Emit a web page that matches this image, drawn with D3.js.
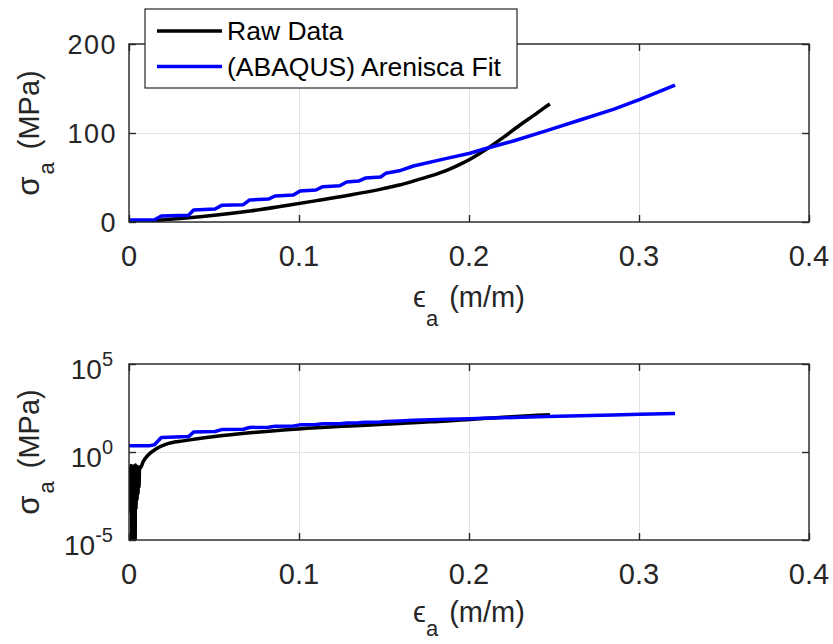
<!DOCTYPE html>
<html><head><meta charset="utf-8">
<script src="https://cdn.jsdelivr.net/npm/d3@7"></script>
<style>body{margin:0;background:#fff} svg{display:block} text{font-family:"Liberation Sans",Arial,Helvetica,sans-serif}</style>
</head><body><svg id="c" width="833" height="644"></svg>
<script>
// ---------- data ----------
const xTicks = [0, 0.1, 0.2, 0.3, 0.4];
const xTickLabels = ["0", "0.1", "0.2", "0.3", "0.4"];
const yTopTicks = [0, 100, 200];
const yTopTickLabels = ["0", "100", "200"];
const yBotTicks = [1e-5, 1, 1e5];
const yBotTickExp = ["-5", "0", "5"];
const seriesNames = ["Raw Data", "(ABAQUS) Arenisca Fit"];

const rawStrain = [0.0000,0.0003,0.0006,0.0009,0.0012,0.0015,0.0017,0.0019,0.0022,0.0025,0.0028,0.0031,0.0034,0.0036,0.0038,0.0041,0.0044,0.0047,0.0050,0.0053,0.0056,0.0059,0.0062,0.0065,
  0.0085,0.0104,0.0130,0.0163,0.0220,0.0320,0.0516,0.0712,0.0908,0.1104,0.1300,0.1496,0.1590,0.1673,0.1770,0.1869,0.1950,0.2006,0.2104,0.2202,0.2300,0.2398,0.2440,0.2476];
const rawStress = [0.15,0.0008,0.12,0.0004,0.17,0.002,0.000003,0.14,0.0005,0.16,0.0012,0.11,0.0003,0.000004,0.18,0.0006,0.13,0.002,0.15,0.004,0.12,0.01,0.14,0.117,
  0.30,0.54,0.95,1.6,2.8,4.3,7.9,12.4,18.0,24.0,30.3,37.5,41.5,46.0,51.5,58.0,65.0,70.5,82.0,95.0,109.0,122.0,128.0,132.6];

const fitStrain = [0,0.0124,0.0150,0.0190,0.0350,0.0380,0.0506,0.0545,0.0673,0.0708,0.0820,0.0859,0.0967,0.1006,0.1100,0.1140,0.1240,0.1280,0.1350,0.1390,0.1480,0.1510,0.1590,0.1673,0.1869,0.2006,0.2084,0.2261,0.2457,0.2653,0.2849,0.3006,0.3212];
const fitStress = [2.3,2.3,2.6,6.7,7.5,13.5,14.6,18.7,19.5,24.7,25.8,29.2,30.3,34.8,36.0,39.7,40.8,44.9,46.0,49.4,50.6,54.7,57.5,62.9,71.5,77.2,81.7,91.0,102.6,114.6,126.6,137.9,153.9];

// ---------- setup ----------
const svg = d3.select("#c");
const AX = "#262626", GRID = "#e2e2e2";
const x = d3.scaleLinear().domain([0, 0.4]).range([129, 809]);
const yTop = d3.scaleLinear().domain([0, 200]).range([222, 44]);
const yBot = d3.scaleLog().domain([1e-5, 1e5]).range([540, 364]);

const raw = rawStrain.map((s, i) => [s, rawStress[i]]);
const fit = fitStrain.map((s, i) => [s, fitStress[i]]);

function styleAxis(sel, color, width) {
  sel.select(".domain").remove();
  sel.selectAll("text").remove();
  sel.selectAll("line").attr("stroke", color).attr("stroke-width", width);
}

function panel(y, yTicks, id, labOff, subDy) {
  const [yb, yt] = y.range();
  const [xl, xr] = x.range();
  const g = svg.append("g");
  // grid
  g.append("g").attr("transform", `translate(0,${yb})`)
    .call(d3.axisBottom(x).tickValues(xTicks).tickSize(-(yb - yt)).tickFormat(""))
    .call(s => styleAxis(s, GRID, 1));
  g.append("g").attr("transform", `translate(${xl},0)`)
    .call(d3.axisLeft(y).tickValues(yTicks).tickSize(-(xr - xl)).tickFormat(""))
    .call(s => styleAxis(s, GRID, 1));
  // clip + lines
  svg.append("clipPath").attr("id", id).append("rect")
    .attr("x", xl).attr("y", yt).attr("width", xr - xl).attr("height", yb - yt);
  const lineSmooth = d3.line().x(d => x(d[0])).y(d => y(d[1])).curve(d3.curveMonotoneX);
  const line = d3.line().x(d => x(d[0])).y(d => y(d[1]));
  const lg = g.append("g").attr("clip-path", `url(#${id})`);
  lg.append("path").datum(raw).attr("d", lineSmooth).attr("fill", "none")
    .attr("stroke", "#000").attr("stroke-width", 3.5).attr("stroke-linejoin", "round");
  lg.append("path").datum(fit).attr("d", line).attr("fill", "none")
    .attr("stroke", "#0000ff").attr("stroke-width", 3.5).attr("stroke-linejoin", "round");
  // ticks (inward) on all four sides
  const tl = 7;
  g.append("g").attr("transform", `translate(0,${yb})`)
    .call(d3.axisBottom(x).tickValues(xTicks).tickSizeInner(-tl).tickSizeOuter(0).tickFormat(""))
    .call(s => styleAxis(s, AX, 1.4));
  g.append("g").attr("transform", `translate(0,${yt})`)
    .call(d3.axisTop(x).tickValues(xTicks).tickSizeInner(-tl).tickSizeOuter(0).tickFormat(""))
    .call(s => styleAxis(s, AX, 1.4));
  g.append("g").attr("transform", `translate(${xl},0)`)
    .call(d3.axisLeft(y).tickValues(yTicks).tickSizeInner(-tl).tickSizeOuter(0).tickFormat(""))
    .call(s => styleAxis(s, AX, 1.4));
  g.append("g").attr("transform", `translate(${xr},0)`)
    .call(d3.axisRight(y).tickValues(yTicks).tickSizeInner(-tl).tickSizeOuter(0).tickFormat(""))
    .call(s => styleAxis(s, AX, 1.4));
  // box
  g.append("rect").attr("x", xl).attr("y", yt).attr("width", xr - xl).attr("height", yb - yt)
    .attr("fill", "none").attr("stroke", AX).attr("stroke-width", 1.4);
  // x tick labels
  g.selectAll(".xt").data(xTicks).enter().append("text")
    .attr("x", d => x(d)).attr("y", yb + 44)
    .attr("text-anchor", "middle").attr("font-size", 29).attr("fill", AX)
    .text((d, i) => xTickLabels[i]);
  // x label
  const xlab = g.append("text").attr("x", (xl + xr) / 2).attr("y", yb + labOff)
    .attr("text-anchor", "middle").attr("fill", AX).attr("font-size", 29);
  xlab.append("tspan").text("\u03F5");
  xlab.append("tspan").attr("font-size", 22).attr("dy", subDy).text("a");
  xlab.append("tspan").attr("dy", -subDy).attr("dx", 3).text(" (m/m)");
  // y label
  const ylab = g.append("text").attr("transform", `translate(39,${(yb + yt) / 2}) rotate(-90)`)
    .attr("text-anchor", "middle").attr("fill", AX).attr("font-size", 29);
  ylab.append("tspan").attr("font-size", 31).text("\u03C3");
  ylab.append("tspan").attr("font-size", 22).attr("dy", 15).attr("dx", 2).text("a");
  ylab.append("tspan").attr("dy", -15).attr("dx", 5).text(" (MPa)");
  return g;
}

const gTop = panel(yTop, yTopTicks, "clipTop", 85, 19);
const gBot = panel(yBot, yBotTicks, "clipBot", 82, 14);

// top y tick labels
gTop.selectAll(".yt").data(yTopTicks).enter().append("text")
  .attr("x", 117).attr("y", d => yTop(d)).attr("dy", "0.36em")
  .attr("text-anchor", "end").attr("font-size", 27).attr("fill", AX)
  .attr("letter-spacing", 1.5)
  .text((d, i) => yTopTickLabels[i]);

// bottom y tick labels (10^n)
const bt = gBot.selectAll(".yb").data(yBotTicks).enter().append("text")
  .attr("x", 113).attr("y", d => yBot(d) + 15)
  .attr("text-anchor", "end").attr("font-size", 28).attr("fill", AX);
bt.append("tspan").text("10");
bt.append("tspan").attr("font-size", 20).attr("dy", -13).text((d, i) => yBotTickExp[i]);

// legend
const leg = svg.append("g");
leg.append("rect").attr("x", 145).attr("y", 9).attr("width", 372).attr("height", 79)
  .attr("fill", "#fff").attr("stroke", AX).attr("stroke-width", 1.2);
const legColors = ["#000", "#0000ff"];
const legY = [31, 66.5];
seriesNames.forEach((n, i) => {
  leg.append("line").attr("x1", 157).attr("x2", 222).attr("y1", legY[i]).attr("y2", legY[i])
    .attr("stroke", legColors[i]).attr("stroke-width", 3.4);
  leg.append("text").attr("x", 227).attr("y", legY[i]).attr("dy", "0.35em")
    .attr("font-size", 26.5).attr("fill", "#000").text(n);
});
</script></body></html>
